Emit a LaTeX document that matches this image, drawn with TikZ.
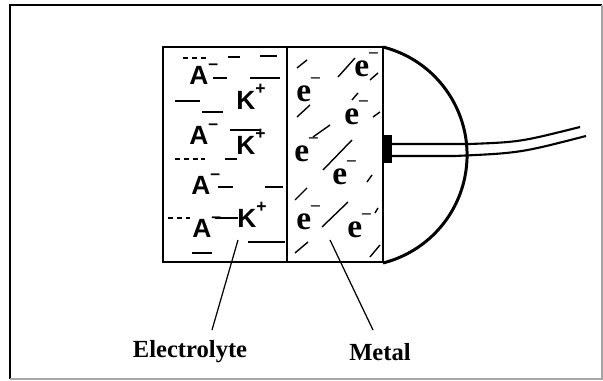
\documentclass[tikz,border=0pt]{standalone}
\usepackage{fontspec}
\setmainfont{Liberation Serif}
\newfontfamily\ionsans{Liberation Sans}
\usetikzlibrary{positioning}
\newcommand\ionlbl[2]{#1\raisebox{0.58em}{\fontsize{10}{10}\selectfont #2}}

\begin{document}
\begin{tikzpicture}[x=0.02cm,y=-0.02cm,
    wall/.style={line width=1.7pt},
    hatch/.style={line width=0.8pt},
    cable/.style={line width=1.2pt},
    anion/.style={anchor=base west,inner sep=0pt,font=\ionsans\bfseries\fontsize{15}{15}\selectfont},
    elec/.style={anchor=base west,inner sep=0pt,font=\bfseries\fontsize{19}{19}\selectfont},
    caption/.style={font=\bfseries\fontsize{14}{14}\selectfont,inner sep=1pt},
    leader/.style={line width=0.7pt}]
  \useasboundingbox (0,0) rectangle (603,381);
  \draw[line width=0.8pt] (10,379) -- (10,5) -- (602,5);
  \draw[line width=0.8pt,gray!70] (10,379) -- (602,379) -- (602,5);
  % electrolyte and metal blocks
  \draw[line width=1.3pt] (287,47) -- (163,47) -- (163,262) -- (287,262);
  \draw[wall] (287,47) rectangle (383,262);
  % lead wire and its contact
  \draw[cable] (392,144) -- (470,144) .. controls (520,142) .. (580,127);
  \draw[cable] (392,156) -- (455,156) .. controls (520,153) .. (586,136);
  \fill (383,135) rectangle (392,163);
  \draw[wall] (383,47) arc[start angle=-75.8,end angle=75.8,radius=111.4];
  % electrolyte shading
  \foreach \a/\b/\y in {228/240/57,260/277/56,213/227/78,250/280/78,175/200/101,
      202/223/112,230/260/130,225/237/159,218/233/187,265/283/187,215/238/218,
      248/285/242,192/212/253}
    \draw[hatch] (\a,\y) -- (\b,\y);
  \foreach \a/\b/\y in {183/208/58,175/205/159,168/190/218}
    \draw[hatch,dash pattern=on 3pt off 2pt] (\a,\y) -- (\b,\y);
  % metal shading
  \foreach \a/\b/\c/\d in {297/68/307/60,338/77/355/58,370/80/378/73,352/100/358/93,
      297/117/310/105,373/117/380/112,313/137/330/125,323/170/352/140,367/182/372/175,
      295/200/307/188,322/227/348/202,375/213/378/208,295/253/308/242,370/257/380/245}
    \draw[hatch] (\a,\b) -- (\c,\d);
  \foreach \x/\y [count=\i] in {189/85,189/145,191/195,192/238}
    \node[anion] (a\i) at (\x,\y) {\ionlbl{A}{–}};
  \foreach \x/\y [count=\i] in {236/110,236/155,237/228}
    \node[anion] (k\i) at (\x,\y) {\ionlbl{K}{+}};
  \foreach \x/\y [count=\i] in {354/77,296/102,344/125,294/162,332/185,296/230,347/238}
    \node[elec] (e\i) at (\x,\y) {\ionlbl{e}{–}};
  \node[caption] (elyte) at (190,352) {Electrolyte};
  \node[caption] (metal) at (380,352) {Metal};
  \coordinate (elyte-in) at (238,240);
  \coordinate (metal-in) at (330,240);
  \draw[leader] (elyte-in) -- (212,330);
  \draw[leader] (metal-in) -- (373,330);
\end{tikzpicture}
\end{document}
